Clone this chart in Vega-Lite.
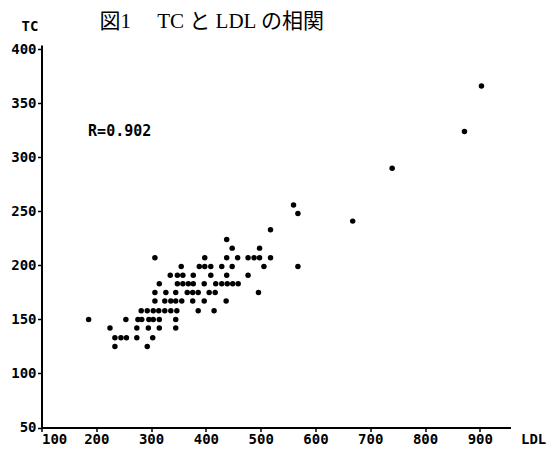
{
  "$schema": "https://vega.github.io/schema/vega-lite/v6.json",
  "width": 469,
  "height": 382.5,
  "autosize": {"type": "none"},
  "padding": {"left": 41.5, "top": 45, "right": 38.5, "bottom": 28.5},
  "background": "white",
  "title": {
    "text": "図1　 TC と LDL の相関",
    "anchor": "start",
    "frame": "group",
    "dx": 58,
    "dy": 17,
    "offset": 4,
    "font": "Liberation Serif, Noto Sans CJK JP",
    "fontSize": 21,
    "fontWeight": "normal",
    "color": "black"
  },
  "config": {
    "view": {"stroke": null},
    "axis": {
      "grid": false,
      "domainColor": "black",
      "domainWidth": 2,
      "tickColor": "black",
      "tickWidth": 1.5,
      "tickSize": 4,
      "labelFont": "DejaVu Sans Mono",
      "labelFontWeight": "bold",
      "labelFontSize": 14,
      "labelColor": "black",
      "titleFont": "DejaVu Sans Mono",
      "titleFontWeight": "bold",
      "titleFontSize": 14,
      "titleColor": "black"
    }
  },
  "layer": [
    {
      "data": {
        "values": [
          {"LDL": 518, "TC": 233},
          {"LDL": 438, "TC": 224},
          {"LDL": 448, "TC": 216}, {"LDL": 498, "TC": 216},
          {"LDL": 307, "TC": 207}, {"LDL": 398, "TC": 207}, {"LDL": 438, "TC": 207}, {"LDL": 458, "TC": 207}, {"LDL": 477, "TC": 207}, {"LDL": 488, "TC": 207}, {"LDL": 498, "TC": 207}, {"LDL": 518, "TC": 207},
          {"LDL": 355, "TC": 199}, {"LDL": 388, "TC": 199}, {"LDL": 398, "TC": 199}, {"LDL": 409, "TC": 199}, {"LDL": 429, "TC": 199}, {"LDL": 448, "TC": 199}, {"LDL": 506, "TC": 199}, {"LDL": 568, "TC": 199},
          {"LDL": 335, "TC": 191}, {"LDL": 348, "TC": 191}, {"LDL": 358, "TC": 191}, {"LDL": 377, "TC": 191}, {"LDL": 409, "TC": 191}, {"LDL": 438, "TC": 191}, {"LDL": 477, "TC": 191},
          {"LDL": 315, "TC": 183}, {"LDL": 348, "TC": 183}, {"LDL": 358, "TC": 183}, {"LDL": 368, "TC": 183}, {"LDL": 377, "TC": 183}, {"LDL": 397, "TC": 183}, {"LDL": 418, "TC": 183}, {"LDL": 429, "TC": 183}, {"LDL": 439, "TC": 183}, {"LDL": 449, "TC": 183}, {"LDL": 459, "TC": 183},
          {"LDL": 307, "TC": 175}, {"LDL": 327, "TC": 175}, {"LDL": 345, "TC": 175}, {"LDL": 366, "TC": 175}, {"LDL": 376, "TC": 175}, {"LDL": 386, "TC": 175}, {"LDL": 406, "TC": 175}, {"LDL": 417, "TC": 175}, {"LDL": 496, "TC": 175},
          {"LDL": 307, "TC": 167}, {"LDL": 325, "TC": 167}, {"LDL": 336, "TC": 167}, {"LDL": 345, "TC": 167}, {"LDL": 356, "TC": 167}, {"LDL": 376, "TC": 167}, {"LDL": 397, "TC": 167}, {"LDL": 437, "TC": 167},
          {"LDL": 282, "TC": 158}, {"LDL": 293, "TC": 158}, {"LDL": 304, "TC": 158}, {"LDL": 314, "TC": 158}, {"LDL": 325, "TC": 158}, {"LDL": 336, "TC": 158}, {"LDL": 347, "TC": 158}, {"LDL": 386, "TC": 158}, {"LDL": 415, "TC": 158},
          {"LDL": 186, "TC": 150}, {"LDL": 254, "TC": 150}, {"LDL": 276, "TC": 150}, {"LDL": 283, "TC": 150}, {"LDL": 296, "TC": 150}, {"LDL": 304, "TC": 150}, {"LDL": 315, "TC": 150}, {"LDL": 345, "TC": 150},
          {"LDL": 225, "TC": 142}, {"LDL": 274, "TC": 142}, {"LDL": 295, "TC": 142}, {"LDL": 315, "TC": 142}, {"LDL": 345, "TC": 142},
          {"LDL": 234, "TC": 133}, {"LDL": 245, "TC": 133}, {"LDL": 255, "TC": 133}, {"LDL": 274, "TC": 133}, {"LDL": 303, "TC": 133},
          {"LDL": 234, "TC": 125}, {"LDL": 293, "TC": 125},
          {"LDL": 560, "TC": 256}, {"LDL": 568, "TC": 248}, {"LDL": 668, "TC": 241},
          {"LDL": 740, "TC": 290}, {"LDL": 872, "TC": 324}, {"LDL": 903, "TC": 366}
        ]
      },
      "mark": {"type": "circle", "size": 30, "color": "black", "opacity": 1},
      "encoding": {
        "x": {
          "field": "LDL", "type": "quantitative",
          "scale": {"domain": [100, 956], "nice": false, "zero": false},
          "axis": {
            "values": [100, 200, 300, 400, 500, 600, 700, 800, 900],
            "labelPadding": 1,
            "title": "LDL",
            "titleAnchor": "end",
            "titleAlign": "left",
            "titleBaseline": "top",
            "titleAngle": 0,
            "titleX": 479,
            "titleY": 5
          }
        },
        "y": {
          "field": "TC", "type": "quantitative",
          "scale": {"domain": [50, 404], "nice": false, "zero": false},
          "axis": {
            "values": [50, 100, 150, 200, 250, 300, 350, 400],
            "labelPadding": 1.5,
            "title": "TC",
            "titleAngle": 0,
            "titleAnchor": "end",
            "titleAlign": "center",
            "titleBaseline": "bottom",
            "titleX": -12,
            "titleY": -12
          }
        }
      }
    },
    {
      "data": {"values": [{"LDL": 185, "TC": 324, "label": "R=0.902"}]},
      "mark": {"type": "text", "align": "left", "baseline": "middle", "font": "DejaVu Sans Mono", "fontWeight": "bold", "fontSize": 15, "color": "black"},
      "encoding": {
        "x": {"field": "LDL", "type": "quantitative"},
        "y": {"field": "TC", "type": "quantitative"},
        "text": {"field": "label"}
      }
    }
  ]
}
